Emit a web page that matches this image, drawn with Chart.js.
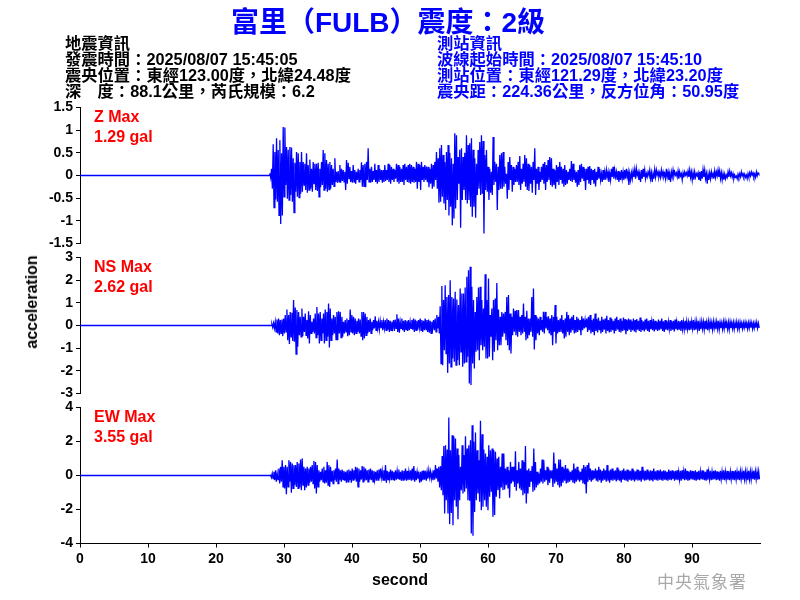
<!DOCTYPE html>
<html>
<head>
<meta charset="utf-8">
<script src="https://cdn.jsdelivr.net/npm/chart.js@4.4.1/dist/chart.umd.min.js"></script>
<style>
  html, body { margin: 0; padding: 0; background: #fff; }
  #page { position: relative; width: 800px; height: 600px; overflow: hidden; background: #fff; }
  canvas { position: absolute; left: 0; top: 0; }
  .txt { position: absolute; white-space: pre; font-family: Arial, "Liberation Sans", "Noto Sans CJK TC", sans-serif; font-weight: bold; }
  .info { font-size: 16.3px; line-height: 16px; font-weight: bold; }
  .red { color: #ff0000; font-size: 16px; line-height: 20px; }
</style>
</head>
<body>
<div id="page">
  <canvas id="cz" width="800" height="600"></canvas>
  <canvas id="cns" width="800" height="600"></canvas>
  <canvas id="cew" width="800" height="600"></canvas>

  <div class="txt" id="title" style="left:0; width:776px; top:0px; text-align:center; font-size:28px; color:#0000ff;">富里（FULB）震度：2級</div>
  <div class="txt info" style="left:65px; top:35px; color:#000;">地震資訊
發震時間：2025/08/07 15:45:05
震央位置：東經123.00度，北緯24.48度
深　度：88.1公里，芮氏規模：6.2</div>
  <div class="txt info" style="left:437px; top:35px; color:#0000ff;">測站資訊
波線起始時間：2025/08/07 15:45:10
測站位置：東經121.29度，北緯23.20度
震央距：224.36公里，反方位角：50.95度</div>

  <div class="txt red" style="left:94px; top:107px;">Z Max
1.29 gal</div>
  <div class="txt red" style="left:94px; top:257px;">NS Max
2.62 gal</div>
  <div class="txt red" style="left:94px; top:407px;">EW Max
3.55 gal</div>

  <div class="txt" style="left:32px; top:302px; font-size:16px; transform:translate(-50%,-50%) rotate(-90deg);">acceleration</div>
  <div class="txt" style="left:400px; top:580px; font-size:16px; transform:translate(-50%,-50%);">second</div>
  <div class="txt" style="left:657px; top:568px; font-size:17px; font-weight:normal; color:#a8a8a8; font-family:'Noto Sans CJK TC', sans-serif; letter-spacing:1px;">中央氣象署</div>
</div>

<script>
// 取樣間隔（秒），每兩個值為一組峰／谷
const DT = 0.1225;

// Z 分量 (gal)，由 27.8 秒開始
const zStart = 27.8;
const zAcc = [
  0.05,-0.05,0.15,-0.29,0.69,-0.71,0.52,-0.53,0.82,-0.58,0.56,-0.88,0.78,-1.07,0.49,-0.88,1.07,-0.47,1.06,-0.21,
  0.63,-0.51,0.57,-0.54,0.63,-0.43,0.62,-0.58,0.38,-0.82,0.28,-0.36,0.52,-0.47,0.49,-0.49,0.3,-0.4,0.52,-0.36,
  0.3,-0.21,0.26,-0.32,0.49,-0.38,0.23,-0.32,0.35,-0.29,0.15,-0.36,0.3,-0.18,0.26,-0.32,0.26,-0.34,0.28,-0.47,
  0.15,-0.26,0.3,-0.21,0.56,-0.32,0.49,-0.29,0.34,-0.36,0.26,-0.31,0.3,-0.29,0.23,-0.21,0.15,-0.24,0.38,-0.14,
  0.08,-0.16,0.1,-0.14,0.23,-0.16,0.15,-0.12,0.12,-0.14,0.08,-0.32,0.34,-0.18,0.28,-0.07,0.19,-0.14,0.1,-0.16,
  0.23,-0.14,0.12,-0.18,0.08,-0.1,0.15,-0.14,0.12,-0.1,0.29,-0.25,0.23,-0.24,0.26,-0.26,0.3,-0.1,0.6,-0.14,
  0.15,-0.16,0.19,-0.14,0.1,-0.1,0.26,-0.14,0.12,-0.18,0.23,-0.14,0.15,-0.1,0.12,-0.16,0.12,-0.14,0.23,-0.12,
  0.12,-0.1,0.26,-0.14,0.23,-0.18,0.19,-0.1,0.15,-0.14,0.12,-0.07,0.26,-0.14,0.23,-0.18,0.19,-0.14,0.15,-0.14,
  0.23,-0.21,0.26,-0.1,0.19,-0.14,0.23,-0.16,0.26,-0.18,0.23,-0.14,0.19,-0.16,0.15,-0.14,0.3,-0.29,0.26,-0.14,
  0.23,-0.32,0.3,-0.1,0.19,-0.14,0.23,-0.1,
  0.2,-0.15,0.19,-0.26,0.15,-0.18,0.26,-0.29,0.23,-0.25,0.3,-0.1,0.52,-0.29,0.38,-0.6,0.6,-0.58,0.67,-0.47,
  0.45,-0.62,0.3,-0.76,0.52,-0.54,0.67,-0.88,0.5,-0.69,0.38,-1.1,0.26,-0.95,0.93,-0.73,0.89,-0.54,0.41,-0.18,
  0.57,-1.15,0.6,-0.54,0.41,-0.32,0.5,-0.54,0.89,-0.62,0.67,-0.54,0.71,-0.69,0.82,-0.91,0.57,-0.69,0.38,-0.93,
  0.26,-0.43,0.56,-0.29,0.74,-0.43,0.89,-0.4,0.76,-1.28,0.45,-0.32,0.56,-0.36,0.19,-0.54,0.15,-0.38,0.08,-0.43,
  0.85,-0.21,0.3,-0.14,0.26,-0.76,0.19,-0.32,0.45,-0.29,0.49,-0.29,0.52,-0.25,0.19,-0.18,0.04,-0.51,0.3,-0.32,
  0.41,-0.1,0.23,-0.36,0.19,-0.21,0.15,-0.14,0.23,-0.14,0.3,-0.21,0.43,-0.32,0.15,-0.18,0.26,-0.14,0.45,-0.25,
  0.38,-0.32,0.26,-0.34,0.23,-0.18,0.19,-0.38,0.3,-0.1,0.6,-0.43,0.15,-0.18,0.19,-0.32,0.08,-0.14,0.19,-0.1,
  0.26,-0.18,0.3,-0.32,0.23,-0.14,0.34,-0.1,0.41,-0.21,0.38,-0.25,0.15,-0.21,0.12,-0.29,0.23,-0.14,0.19,-0.21,
  0.3,-0.1,0.19,-0.18,0.15,-0.25,0.23,-0.21,0.12,-0.18,0.08,-0.1,0.15,-0.12,0.32,-0.14,0.26,-0.1,0.12,-0.16,
  0.08,-0.25,0.12,-0.21,0.23,-0.14,0.26,-0.07,0.19,-0.12,0.15,-0.32,0.15,-0.1,
  0.19,-0.18,0.21,-0.21,0.15,-0.1,0.12,-0.18,0.15,-0.24,0.08,-0.1,0.19,-0.07,0.15,-0.1,0.04,-0.14,0.12,-0.1,
  0.08,-0.09,0.12,-0.03,0.08,-0.14,0.04,-0.1,0.15,-0.03,0.19,-0.07,0.12,-0.03,0.08,-0.1,0.1,-0.14,0.08,-0.1,
  0.12,-0.07,0.08,-0.1,0.12,-0.07,0.15,-0.03,0.08,-0.21,0.04,-0.1,0.06,-0.07,0.1,-0.03,0.13,-0.07,0.15,0.01,
  0.08,-0.1,0.04,-0.14,0.12,-0.07,0.15,-0.03,0.12,-0.07,0.04,-0.03,0.08,0.01,0.12,-0.07,0.06,-0.14,0.04,-0.07,
  0.13,-0.03,0.12,0.01,0.08,-0.03,0.06,-0.04,0.12,-0.01,0.08,-0.03,0.04,-0.07,0.15,-0.03,0.08,-0.1,0.04,-0.14,
  0.08,-0.03,0.12,-0.01,0.08,0.01,0.06,-0.03,0.1,-0.07,0.08,-0.01,0.04,-0.1,0.06,-0.04,0.08,0.01,0.06,-0.01,
  0.1,-0.03,0.12,-0.04,0.08,-0.1,0.06,-0.09,0.08,-0.04,0.04,-0.01,0.06,-0.1,0.08,-0.12,0.1,-0.07,0.13,-0.03,
  0.12,-0.07,0.04,-0.18,0.03,-0.1,0.06,-0.07,0.08,-0.03,0.04,-0.07,0.1,-0.04,0.08,-0.01,0.12,-0.03,0.1,-0.07,
  0.06,-0.1,0.04,-0.09,0.03,-0.07,0.01,-0.04,0.08,-0.03,0.1,-0.01,0.06,-0.04,0.04,-0.07,0.01,-0.04,-0.01,-0.07,
  0.03,-0.04,0.04,-0.03,0.08,-0.01,0.04,-0.03,0.03,-0.04,0.01,-0.07,0.04,-0.04,0.06,-0.01,0.08,0.01,0.06,-0.03,
  0.03,-0.04,0.08,-0.01,0.06,0.03
];

// NS 分量 (gal)，由 28.1 秒開始
const nsStart = 28.1;
const nsAcc = [
  0.06,-0.09,0.1,-0.12,0.16,-0.28,0.26,-0.35,0.31,-0.43,0.24,-0.35,0.26,-0.47,0.31,-0.35,0.46,-0.28,0.71,-0.65,
  0.46,-0.82,0.6,-0.5,0.56,-0.68,1.12,-0.72,0.79,-1.26,0.68,-0.94,0.6,-0.43,0.38,-0.5,0.75,-0.47,0.38,-0.28,
  0.53,-0.43,0.24,-0.57,0.63,-0.79,0.46,-0.35,0.16,-0.28,0.31,-0.35,0.53,-0.53,0.82,-0.43,0.53,-0.79,0.6,-0.65,
  0.31,-0.35,0.53,-0.79,0.71,-0.65,0.6,-0.5,0.97,-0.97,0.75,-0.65,0.31,-0.43,0.46,-0.35,0.38,-0.62,0.6,-0.65,
  0.63,-0.35,0.6,-0.53,0.38,-0.5,0.16,-0.35,0.24,-0.28,0.31,-0.47,0.24,-0.43,0.71,-0.28,0.46,-0.35,0.38,-0.43,
  0.31,-0.35,0.21,-0.28,0.31,-0.35,0.26,-0.47,0.6,-0.65,0.6,-0.57,0.53,-0.43,0.38,-0.35,0.24,-0.28,0.31,-0.35,
  0.16,-0.21,0.24,-0.13,0.41,-0.21,0.21,-0.13,0.16,-0.18,0.21,-0.09,0.24,-0.21,0.16,-0.13,0.24,-0.21,0.31,-0.18,
  0.24,-0.28,0.21,-0.21,0.16,-0.09,0.24,-0.24,0.26,-0.13,0.5,-0.28,0.31,-0.32,0.16,-0.13,0.31,-0.21,0.21,-0.28,
  0.24,-0.18,0.21,-0.24,0.24,-0.21,0.16,-0.13,0.24,-0.18,0.31,-0.28,0.26,-0.21,0.21,-0.18,0.24,-0.09,0.31,-0.21,
  0.24,-0.28,0.21,-0.21,0.31,-0.18,0.24,-0.28,0.26,-0.32,0.21,-0.35,
  0.16,-0.13,0.24,-0.21,0.31,-0.28,0.46,-0.13,0.38,-0.35,
  0.85,-1.68,1.74,-1.75,1.12,-1.09,1.78,-1.24,1.26,-2.09,1.34,-1.68,2.0,-1.82,1.26,-1.46,1.19,-1.6,1.49,-1.75,
  1.15,-1.53,0.9,-1.75,1.63,-1.16,1.41,-1.82,1.41,-1.68,1.68,-1.6,2.15,-1.38,2.44,-2.56,2.59,-2.63,1.71,-1.68,
  1.12,-1.9,0.6,-1.16,1.26,-1.09,1.68,-1.53,1.71,-0.87,1.12,-1.09,0.75,-0.94,2.26,-1.46,1.12,-1.46,2.07,-1.38,
  0.46,-0.5,0.75,-1.53,1.12,-1.16,1.19,-0.65,1.88,-1.09,0.71,-0.87,0.38,-0.87,0.6,-0.5,0.53,-0.35,0.6,-0.65,
  1.26,-0.87,1.34,-1.09,0.53,-1.24,0.38,-0.43,0.75,-0.28,0.65,-0.43,0.68,-0.5,0.68,-0.28,
  0.38,-0.43,0.46,-0.35,0.97,-0.28,0.38,-0.65,0.65,-0.57,0.31,-0.43,0.31,-0.28,1.26,-0.5,1.63,-1.06,0.46,-0.65,
  0.38,-0.35,0.31,-0.43,0.38,-0.21,0.24,-0.28,0.6,-0.35,0.6,-0.13,0.38,-0.21,0.41,-0.35,0.31,-0.43,0.46,-0.87,
  0.38,-0.28,0.9,-0.79,0.38,-0.35,0.24,-0.28,0.31,-0.28,0.46,-0.35,0.24,-0.57,0.31,-0.5,0.6,-0.28,0.46,-0.43,
  0.31,-0.32,0.38,-0.21,0.46,-0.35,0.24,-0.32,0.38,-0.28,0.31,-0.21,0.24,-0.43,0.41,-0.21,0.31,-0.13,0.24,-0.09,
  0.31,-0.28,0.38,-0.21,0.46,-0.35,0.24,-0.28,0.31,-0.43,0.53,-0.24,0.28,-0.31,0.35,-0.21,0.21,-0.35,0.38,-0.28,
  0.26,-0.18,0.31,-0.35,0.43,-0.24,0.24,-0.31,0.35,-0.28,0.28,-0.21,0.21,-0.35,0.31,-0.24,0.38,-0.18,0.24,-0.28,
  0.31,-0.31,0.21,-0.24,0.35,-0.21,0.28,-0.38,0.24,-0.24,0.31,-0.18,0.26,-0.28,0.18,-0.21,0.31,-0.26,0.24,-0.31,
  0.28,-0.18,0.21,-0.24,0.35,-0.28,0.24,-0.21,0.18,-0.26,0.26,-0.18,0.31,-0.24,0.21,-0.28,0.24,-0.16,0.18,-0.21,
  0.28,-0.26,0.21,-0.18,0.16,-0.24,0.26,-0.21,0.21,-0.16,0.31,-0.24,0.18,-0.28,0.24,-0.18,0.21,-0.21,0.16,-0.16,
  0.24,-0.24,0.18,-0.18,0.21,-0.26,0.26,-0.16,0.16,-0.21,0.21,-0.18,0.18,-0.24,0.24,-0.16,0.16,-0.18,0.21,-0.21,
  0.18,-0.16,0.14,-0.21,0.21,-0.18,0.18,-0.14,0.24,-0.21,0.16,-0.18,0.18,-0.16,0.21,-0.24,0.14,-0.16,0.18,-0.14,
  0.16,-0.18,0.21,-0.16,0.14,-0.21,0.18,-0.14,0.16,-0.16,0.12,-0.18,0.18,-0.12,0.14,-0.16,0.16,-0.14,0.21,-0.18,
  0.14,-0.12,0.12,-0.16,0.16,-0.14,0.18,-0.12,0.12,-0.16,0.14,-0.18,0.16,-0.12,0.12,-0.14,0.14,-0.16,0.12,-0.12,
  0.16,-0.14,0.12,-0.16,0.14,-0.12,0.1,-0.14,0.12,-0.1,0.14,-0.12,0.1,-0.14,0.12,-0.12,0.14,-0.1,0.12,-0.14,
  0.1,-0.12,0.12,-0.1,0.14,-0.12,0.1,-0.1
];

// EW 分量 (gal)，由 27.9 秒開始
const ewStart = 27.9;
const ewAcc = [
  0.02,-0.12,0.12,-0.18,0.22,-0.27,0.31,-0.37,0.12,-0.24,0.41,-0.47,0.51,-0.37,0.9,-0.67,0.51,-0.76,0.61,-1.1,
  0.51,-0.67,0.9,-0.37,0.8,-1.02,0.71,-0.76,0.61,-0.57,0.61,-0.67,0.8,-0.76,0.71,-0.71,0.94,-0.86,1.0,-0.57,
  0.51,-0.86,0.41,-0.71,0.51,-0.57,0.41,-0.43,0.51,-0.37,0.61,-0.47,0.86,-0.76,0.8,-1.06,0.61,-0.67,0.31,-0.37,
  0.22,-0.27,0.41,-0.37,0.51,-0.47,0.31,-0.43,0.8,-0.57,0.61,-0.67,0.51,-0.37,0.27,-0.47,0.31,-0.27,0.41,-0.37,
  0.94,-0.47,0.41,-0.27,0.31,-0.37,0.35,-0.24,0.27,-0.31,0.22,-0.43,0.31,-0.37,0.35,-0.27,0.27,-0.43,0.41,-0.27,
  0.31,-0.24,0.51,-0.37,0.47,-0.67,0.41,-0.37,0.31,-0.24,0.55,-0.37,0.51,-0.31,0.41,-0.27,0.31,-0.37,0.35,-0.24,
  0.41,-0.27,0.31,-0.37,0.27,-0.24,0.22,-0.31,0.31,-0.27,0.35,-0.18,0.41,-0.12,0.27,-0.27,0.31,-0.31,0.61,-0.43,
  0.27,-0.24,0.22,-0.18,0.35,-0.27,0.27,-0.24,0.22,-0.31,0.31,-0.24,0.27,-0.18,0.35,-0.24,0.22,-0.31,0.31,-0.27,
  0.27,-0.24,0.41,-0.31,0.27,-0.27,0.22,-0.24,0.31,-0.31,0.41,-0.27,0.55,-0.37,0.27,-0.27,0.22,-0.18,0.08,-0.43,
  0.22,-0.37,0.27,-0.27,0.31,-0.24,0.27,-0.31,0.22,-0.18,0.31,-0.12,
  0.22,-0.2,0.12,-0.27,0.31,-0.24,0.61,-0.18,0.41,-0.37,0.51,-0.71,0.55,-0.86,
  1.14,-1.16,1.73,-2.24,1.78,-1.45,1.53,-2.24,3.41,-2.86,1.49,-2.2,2.37,-2.92,2.31,-1.45,2.18,-1.84,1.59,-2.57,
  1.2,-1.45,0.51,-0.86,1.78,-1.06,1.2,-0.96,2.31,-0.76,1.59,-1.45,1.78,-1.49,2.08,-3.41,2.96,-3.55,1.98,-2.14,
  2.53,-1.45,1.49,-1.06,0.9,-1.55,3.22,-2.04,2.43,-1.84,1.53,-1.45,1.29,-1.84,1.1,-2.04,1.78,-1.25,1.49,-0.96,
  1.59,-2.43,1.49,-2.33,1.39,-1.25,1.0,-0.86,1.1,-1.35,0.51,-0.71,1.29,-0.86,1.29,-0.82,0.41,-0.57,0.51,-0.76,
  0.31,-1.31,0.8,-0.47,0.51,-0.37,0.51,-0.67,1.43,-0.9,
  0.31,-0.47,0.8,-0.76,0.41,-0.86,0.9,-1.16,0.8,-1.06,1.73,-1.65,0.31,-1.06,0.41,-0.67,0.27,-0.37,0.55,-0.96,
  1.59,-0.86,0.8,-0.71,0.22,-0.57,0.12,-0.47,0.41,-0.37,0.94,-0.47,0.9,-0.37,0.31,-0.27,0.51,-0.57,0.41,-0.43,
  0.31,-0.18,0.31,-0.67,1.35,-0.47,0.71,-0.37,0.41,-0.57,0.94,-0.71,0.94,-0.63,0.51,-0.43,0.41,-0.31,0.61,-0.47,
  0.41,-0.43,0.31,-0.37,0.22,-0.27,0.31,-0.43,0.71,-0.47,0.41,-0.37,0.51,-0.27,0.31,-0.37,0.22,-0.27,0.41,-0.47,
  0.61,-0.51,0.51,-1.06,0.61,-0.37,0.75,-0.27,0.41,-0.37,0.31,-0.27,0.27,-0.18,
  0.41,-0.31,0.31,-0.37,0.51,-0.27,0.35,-0.43,0.27,-0.31,0.41,-0.24,0.31,-0.37,0.61,-0.31,0.27,-0.43,0.35,-0.27,
  0.41,-0.31,0.27,-0.24,0.31,-0.35,0.47,-0.27,0.35,-0.31,0.27,-0.41,0.31,-0.24,0.41,-0.27,0.27,-0.31,0.35,-0.37,
  0.31,-0.24,0.27,-0.31,0.41,-0.27,0.31,-0.35,0.24,-0.24,0.35,-0.31,0.31,-0.27,0.27,-0.37,0.51,-0.24,0.31,-0.31,
  0.27,-0.27,0.35,-0.24,0.24,-0.31,0.31,-0.27,0.27,-0.35,0.41,-0.24,0.24,-0.27,0.31,-0.31,0.27,-0.24,0.35,-0.27,
  0.24,-0.31,0.31,-0.24,0.27,-0.27,0.22,-0.31,0.35,-0.24,0.27,-0.27,0.31,-0.22,0.24,-0.31,0.27,-0.24,0.31,-0.27,
  0.22,-0.24,0.27,-0.31,0.31,-0.22,0.24,-0.27,0.41,-0.24,0.27,-0.31,0.22,-0.27,0.31,-0.22,0.27,-0.24,0.24,-0.27,
  0.31,-0.31,0.22,-0.24,0.27,-0.27,0.24,-0.22,0.31,-0.24,0.27,-0.27,0.22,-0.31,0.35,-0.24,0.24,-0.22,0.27,-0.27,
  0.22,-0.24,0.27,-0.22,0.31,-0.27,0.24,-0.24,0.22,-0.31,0.27,-0.22,0.24,-0.24,0.31,-0.27,0.22,-0.22,0.27,-0.24,
  0.24,-0.27,0.22,-0.22,0.27,-0.24,0.24,-0.27,0.31,-0.22,0.22,-0.24,0.27,-0.27,0.24,-0.22,0.22,-0.24,0.27,-0.22,
  0.24,-0.24,0.22,-0.27,0.27,-0.22,0.24,-0.24,0.22,-0.22,0.27,-0.24,0.24,-0.22,0.22,-0.24,0.24,-0.22
];

// 座標軸刻度
const xTicksMax = 100;
const zTicks = { min: -1.5, max: 1.5, step: 0.5 };
const nsTicks = { min: -3, max: 3, step: 1 };
const ewTicks = { min: -4, max: 4, step: 2 };

Chart.defaults.font.family = 'Arial, "Liberation Sans", sans-serif';
Chart.defaults.color = '#000';

// 波形起始前為零線
function toPoints(t0, vals) {
    const pts = [{ x: 0, y: 0 }, { x: t0, y: 0 }];
    vals.forEach((v, i) => pts.push({ x: t0 + DT * (i + 1), y: v }));
    return pts;
}

function makePanel(id, pad, ticks, points, showX) {
    return new Chart(document.getElementById(id), {
        type: 'line',
        data: {
            datasets: [{
                data: points,
                borderColor: '#0000ff',
                borderWidth: 1.3,
                pointRadius: 0,
                tension: 0,
                fill: false
            }]
        },
        options: {
            responsive: false,
            animation: false,
            events: [],
            layout: { padding: { top: pad.top, bottom: pad.bottom, left: 0, right: 40 } },
            plugins: { legend: { display: false }, tooltip: { enabled: false } },
            scales: {
                x: {
                    type: 'linear',
                    min: 0,
                    max: xTicksMax,
                    display: showX,
                    ticks: {
                        stepSize: 10,
                        autoSkip: false,
                        maxRotation: 0,
                        padding: 3,
                        font: { size: 14, weight: 'bold' },
                        callback: v => v === xTicksMax ? '' : v
                    },
                    grid: {
                        drawOnChartArea: false,
                        tickLength: 4,
                        color: c => (c.tick && c.tick.value === xTicksMax) ? 'rgba(0,0,0,0)' : '#000'
                    },
                    border: { color: '#000', width: 1 },
                    afterFit: s => { s.height = showX ? 40 : 0; }
                },
                y: {
                    min: ticks.min,
                    max: ticks.max,
                    ticks: {
                        stepSize: ticks.step,
                        autoSkip: false,
                        padding: 3,
                        font: { size: 14, weight: 'bold' },
                        callback: v => String(Math.round(v * 100) / 100)
                    },
                    grid: { drawOnChartArea: false, tickLength: 4, color: '#000' },
                    border: { color: '#000', width: 1 },
                    afterFit: s => { s.width = 80; }
                }
            }
        }
    });
}

makePanel('cz', { top: 107.5, bottom: 356.5 }, zTicks, toPoints(zStart, zAcc), false);
makePanel('cns', { top: 257.5, bottom: 206.5 }, nsTicks, toPoints(nsStart, nsAcc), false);
makePanel('cew', { top: 407.5, bottom: 16.5 }, ewTicks, toPoints(ewStart, ewAcc), true);
</script>
</body>
</html>
